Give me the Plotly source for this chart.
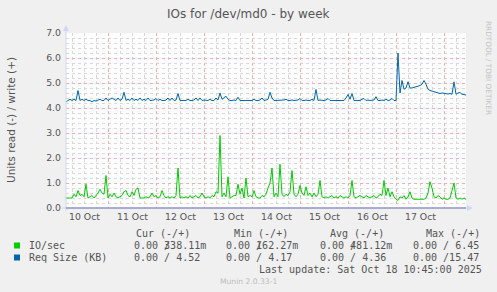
import plotly.graph_objects as go
from datetime import datetime, timedelta

# ---------------- data ----------------
start_time = "2025-10-10 02:45"
step_hours = 1

io_write = [
    0.4, 0.4, 0.4, 0.4, 0.55, 0.45, 0.7, 0.5, 0.55, 0.45,
    0.95, 0.4, 0.45, 0.5, 0.4, 0.5, 0.6, 0.75, 0.6, 0.55,
    1.3, 0.4, 0.55, 0.45, 0.6, 0.45, 0.4, 0.45, 0.5, 0.65,
    0.7, 0.5, 0.45, 0.65, 0.5, 0.75, 0.8, 0.4, 0.4, 0.4,
    0.45, 0.4, 0.45, 0.6, 0.45, 0.5, 0.4, 0.45, 0.7, 0.5,
    0.4, 0.45, 0.4, 0.45, 0.4, 0.5, 1.6, 0.4, 0.45, 0.4,
    0.45, 0.4, 0.5, 0.4, 0.45, 0.5, 0.4, 0.45, 0.6, 0.45,
    0.4, 0.45, 0.4, 0.5, 0.45, 0.65, 0.6, 2.9, 0.45, 0.6,
    0.45, 1.25, 0.4, 0.45, 0.5, 0.5, 0.95, 0.55, 0.8, 0.4,
    1.2, 0.45, 0.5, 0.45, 0.7, 0.45, 0.4, 0.4, 0.5, 0.45,
    0.55, 0.8, 1.0, 1.6, 0.45, 0.6, 0.45, 1.75, 0.55, 0.45,
    0.55, 0.5, 0.65, 1.5, 0.55, 0.45, 0.55, 0.9, 0.6, 0.5,
    0.85, 0.5, 0.6, 0.45, 0.6, 0.45, 0.55, 1.1, 0.45, 0.4,
    0.45, 0.4, 0.45, 0.5, 0.4, 0.45, 0.4, 0.5, 0.45, 0.4,
    0.45, 0.4, 0.5, 1.1, 0.45, 0.4, 0.45, 0.5, 0.45, 0.4,
    0.5, 0.45, 0.4, 0.45, 0.5, 0.4, 0.45, 0.55, 0.5, 1.1,
    0.5, 0.8, 0.45, 0.65, 0.45, 0.35, 0.3, 0.45, 0.4, 0.5,
    0.35, 0.45, 0.65, 0.4, 0.35, 0.35, 0.35, 0.35, 0.35, 0.35,
    0.4, 0.6, 1.05, 0.8, 0.45, 0.4, 0.5, 0.45, 0.35, 0.4,
    0.35, 0.35, 0.4, 0.7, 1.0, 0.4, 0.35, 0.4, 0.35, 0.4, 0.35,
]

req_write = [
    4.25, 4.3, 4.35, 4.3, 4.35, 4.3, 4.7, 4.3, 4.35, 4.3,
    4.35, 4.3, 4.3, 4.25, 4.3, 4.28, 4.3, 4.35, 4.3, 4.3,
    4.4, 4.3, 4.35, 4.4, 4.35, 4.3, 4.4, 4.3, 4.35, 4.63,
    4.3, 4.35, 4.3, 4.4, 4.3, 4.35, 4.3, 4.4, 4.3, 4.35,
    4.3, 4.4, 4.3, 4.3, 4.32, 4.38, 4.3, 4.35, 4.3, 4.3,
    4.32, 4.4, 4.3, 4.4, 4.3, 4.32, 4.58, 4.3, 4.3, 4.32,
    4.3, 4.35, 4.3, 4.3, 4.32, 4.4, 4.3, 4.4, 4.3, 4.32,
    4.3, 4.3, 4.35, 4.3, 4.3, 4.4, 4.32, 4.6, 4.35, 4.4,
    4.47, 4.35, 4.3, 4.3, 4.32, 4.3, 4.43, 4.3, 4.3, 4.32,
    4.3, 4.3, 4.32, 4.3, 4.35, 4.3, 4.3, 4.32, 4.4, 4.3,
    4.32, 4.35, 4.63, 4.4, 4.3, 4.3, 4.32, 4.3, 4.3, 4.32,
    4.35, 4.3, 4.3, 4.32, 4.3, 4.3, 4.32, 4.38, 4.3, 4.3,
    4.32, 4.3, 4.3, 4.35, 4.3, 4.74, 4.3, 4.32, 4.3, 4.3,
    4.32, 4.38, 4.3, 4.3, 4.32, 4.3, 4.3, 4.32, 4.3, 4.3,
    4.4, 4.54, 4.35, 4.58, 4.3, 4.3, 4.32, 4.3, 4.35, 4.38,
    4.3, 4.32, 4.3, 4.3, 4.32, 4.45, 4.3, 4.3, 4.32, 4.3,
    4.35, 4.3, 4.32, 4.38, 4.3, 4.3, 6.2, 4.6, 5.1, 4.75,
    4.8, 5.05, 4.8, 4.8, 4.82, 4.85, 4.85, 4.9, 4.95, 5.1,
    4.95, 4.75, 4.7, 4.68, 4.65, 4.62, 4.6, 4.58, 4.6, 4.58,
    4.55, 4.56, 4.58, 4.55, 5.05, 4.55, 4.6, 4.62, 4.55, 4.52, 4.52,
]

x_range = ["2025-10-10 02:45", "2025-10-18 10:45"]
series_names = ["IO/sec", "Req Size (KB)"]
series_colors = ["#00CC00", "#0066B3"]
legend_headers = ["Cur (-/+)", "Min (-/+)", "Avg (-/+)", "Max (-/+)"]
io_stats = [("0.00 /38.11m", "3"), ("0.00 /62.27m", "1"), ("0.00 /81.12m", "4"), ("0.00 / 6.45", "")]
req_stats = ["0.00 / 4.52", "0.00 / 4.17", "0.00 / 4.36", "0.00 /15.47"]
title_text = "IOs for /dev/md0 - by week"
y_title = "Units read (-) / write (+)"
last_update = "Last update: Sat Oct 18 10:45:00 2025"
munin_ver = "Munin 2.0.33-1"
rrd_credit = "RRDTOOL / TOBI OETIKER"

# ---------------- layout helpers ----------------
W, H = 497, 292
L, R, T, B = 66, 31, 33, 84
PW, PH = W - L - R, H - T - B


def px(x):
    return (x - L) / PW


def py(y):
    return (H - B - y) / PH


t0 = datetime.strptime(start_time, "%Y-%m-%d %H:%M")
times = [t0 + timedelta(hours=step_hours * i) for i in range(len(io_write))]

FONT = "DejaVu Sans"
MONO = "DejaVu Sans Mono"
TXT = "#555555"

fig = go.Figure()
fig.add_trace(go.Scatter(x=times, y=io_write, mode="lines",
                         line=dict(color=series_colors[0], width=1), name=series_names[0]))
fig.add_trace(go.Scatter(x=times, y=req_write, mode="lines",
                         line=dict(color=series_colors[1], width=1), name=series_names[1]))

fig.update_layout(
    width=W, height=H,
    margin=dict(l=L, r=R, t=T, b=B),
    paper_bgcolor="#F0F0F0", plot_bgcolor="#FFFFFF",
    showlegend=False,
    font=dict(family=FONT, color=TXT, size=9.3),
)

fig.update_xaxes(
    type="date", range=x_range,
    tick0="2025-10-10", dtick=86400000,
    ticklabelmode="period", tickformat="%d %b",
    showgrid=True, gridcolor="#F3AFAF", griddash="dot", gridwidth=1,
    minor=dict(dtick=21600000, showgrid=True, gridcolor="#D9D9D9", griddash="dot", gridwidth=1),
    showline=False, zeroline=False, ticks="",
    tickfont=dict(family=FONT, size=9.3, color=TXT),
    ticklabelstandoff=2,
)
fig.update_yaxes(
    range=[0, 7], dtick=1, tickformat=".1f",
    showgrid=True, gridcolor="#F3AFAF", griddash="dot", gridwidth=1,
    minor=dict(dtick=0.2, showgrid=True, gridcolor="#D9D9D9", griddash="dot", gridwidth=1),
    showline=False, zeroline=False, ticks="",
    tickfont=dict(family=FONT, size=9.3, color=TXT),
    ticklabelstandoff=4,
)

shapes = []
AX = "#CFD6F8"
# y axis line + arrow
shapes.append(dict(type="line", xref="paper", yref="paper", x0=px(66), x1=px(66), y0=py(211), y1=py(30),
                   line=dict(color=AX, width=1), layer="above"))
shapes.append(dict(type="path", xref="paper", yref="paper",
                   path=f"M {px(63)},{py(31)} L {px(69)},{py(31)} L {px(66)},{py(25)} Z",
                   fillcolor=AX, line=dict(color=AX, width=0), layer="above"))
# x axis line + arrow
shapes.append(dict(type="line", xref="paper", yref="paper", x0=px(62), x1=px(469), y0=py(208), y1=py(208),
                   line=dict(color=AX, width=1), layer="above"))
shapes.append(dict(type="path", xref="paper", yref="paper",
                   path=f"M {px(467)},{py(205)} L {px(467)},{py(211)} L {px(473)},{py(208)} Z",
                   fillcolor=AX, line=dict(color=AX, width=0), layer="above"))
# zero (read) line
shapes.append(dict(type="line", xref="paper", yref="paper", x0=0, x1=1, y0=py(208), y1=py(208),
                   line=dict(color="#6F74B0", width=1), layer="above"))
# legend swatches
for i, c in enumerate(series_colors):
    yc = 245.5 + 12 * i
    shapes.append(dict(type="rect", xref="paper", yref="paper",
                       x0=px(14), x1=px(20), y0=py(yc + 3), y1=py(yc - 3),
                       fillcolor=c, line=dict(width=0)))
fig.update_layout(shapes=shapes)

ann = []


def text(x, y, s, size=10, family=MONO, color=TXT, xanchor="left", angle=0):
    ann.append(dict(x=px(x), y=py(y), xref="paper", yref="paper", text=s, showarrow=False,
                    xanchor=xanchor, yanchor="middle", textangle=angle,
                    font=dict(family=family, size=size, color=color)))


text(248.5, 13.5, title_text, size=12, family=FONT, color=TXT, xanchor="center")
text(11, 120, y_title, size=10.5, family=FONT, color=TXT, xanchor="center", angle=-90)
text(489, 68, rrd_credit, size=7.3, family=FONT, color="#C4C4C4", xanchor="center", angle=90)

header_x = [134, 231.5, 328, 424]
value_x = [131.7, 224.3, 317.7, 410.7]
for hx, h in zip(header_x, legend_headers):
    text(hx, 233.5, h)
for i, name in enumerate(series_names):
    text(26.5, 245.5 + 12 * i, name)
for vx, (s, over) in zip(value_x, io_stats):
    text(vx, 245.5, s)
    if over:
        text(vx, 245.5, "\u00a0" * 5 + over)
for vx, s in zip(value_x, req_stats):
    text(vx, 257.5, s)
text(483.5, 269.5, last_update, xanchor="right")
text(248.5, 281, munin_ver, size=7.6, family=FONT, color="#BBBBBB", xanchor="center")

fig.update_layout(annotations=ann)
fig.write_html("out.html")
